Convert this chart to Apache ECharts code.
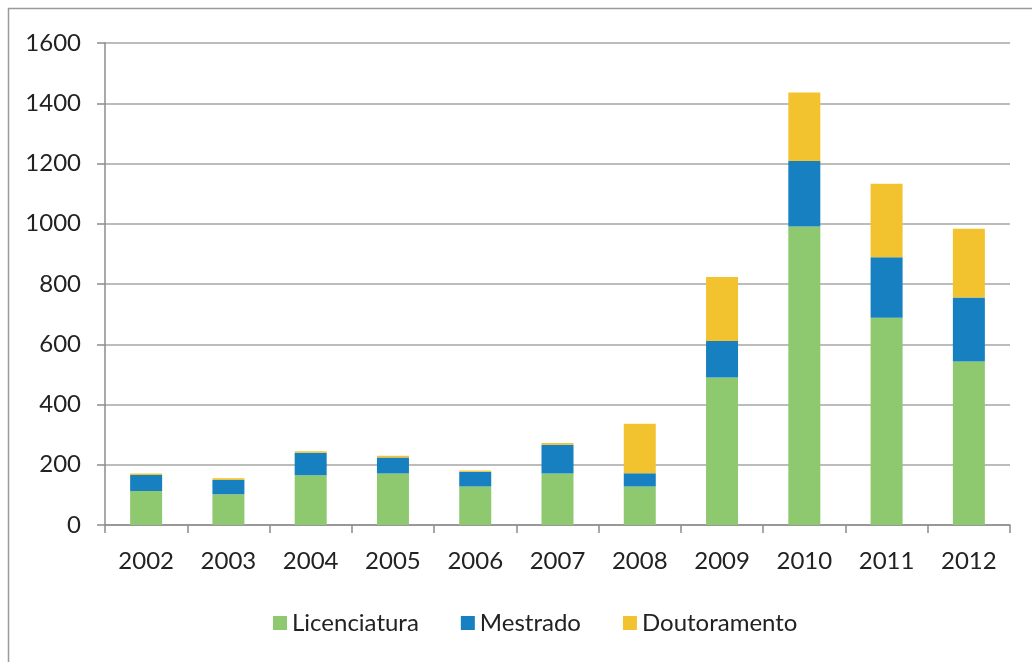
<!DOCTYPE html>
<html>
<head>
<meta charset="utf-8">
<script src="https://cdn.jsdelivr.net/npm/echarts@6/dist/echarts.min.js"></script>
<style>
  html, body { margin: 0; padding: 0; background: #fff; }
  #chart { width: 1032px; height: 662px; }
</style>
</head>
<body>
<div id="chart"></div>
<script>
// Graduates per year by degree level
const years = ['2002', '2003', '2004', '2005', '2006', '2007', '2008', '2009', '2010', '2011', '2012'];
const licenciatura = [113, 102, 165, 171, 128, 171, 128, 490, 991, 688, 543];
const mestrado     = [53, 47, 75, 53, 49, 95, 44, 121, 217, 201, 212];
const doutoramento = [5, 6, 5, 6, 4, 6, 164, 212, 228, 244, 228];
const yTicks = { min: 0, max: 1600, interval: 200 };

const FONT = 'Lato, "Open Sans", sans-serif';
const chart = echarts.init(document.getElementById('chart'), null, { renderer: 'canvas' });

function barSeries(name, data, color) {
  return {
    name: name,
    type: 'bar',
    stack: 'total',
    data: data,
    barWidth: 32,
    itemStyle: { color: color },
    emphasis: { disabled: true }
  };
}

chart.setOption({
  animation: false,
  backgroundColor: '#ffffff',
  textStyle: { fontFamily: FONT },
  graphic: [
    { type: 'line', shape: { x1: 8, y1: 8.5, x2: 1032, y2: 8.5 }, style: { stroke: '#9a9a9a', lineWidth: 1.5 } },
    { type: 'line', shape: { x1: 8.5, y1: 8, x2: 8.5, y2: 662 }, style: { stroke: '#9a9a9a', lineWidth: 1.5 } }
  ],
  grid: { left: 105, right: 22, top: 43, bottom: 137 },
  legend: {
    top: 606,
    left: 268,
    itemWidth: 14,
    itemHeight: 14,
    itemGap: 42,
    icon: 'rect',
    textStyle: { fontSize: 24, color: '#222', fontFamily: FONT },
    data: ['Licenciatura', 'Mestrado', 'Doutoramento']
  },
  xAxis: {
    type: 'category',
    data: years,
    axisLine: { lineStyle: { color: '#8c8c8c', width: 1.5 } },
    axisTick: { show: true, length: 8, alignWithLabel: false, lineStyle: { color: '#8c8c8c', width: 1.5 } },
    axisLabel: { fontSize: 24, color: '#222', margin: 24, fontFamily: FONT }
  },
  yAxis: {
    type: 'value',
    min: yTicks.min,
    max: yTicks.max,
    interval: yTicks.interval,
    axisLine: { show: true, lineStyle: { color: '#8c8c8c', width: 1.5 } },
    axisTick: { show: true, length: 8, lineStyle: { color: '#8c8c8c', width: 1.5 } },
    splitLine: { show: true, lineStyle: { color: '#a6a6a6', width: 1.5 } },
    axisLabel: { fontSize: 24, color: '#222', margin: 24, fontFamily: FONT, formatter: (v) => String(v) }
  },
  series: [
    barSeries('Licenciatura', licenciatura, '#8fc96f'),
    barSeries('Mestrado', mestrado, '#1780c0'),
    barSeries('Doutoramento', doutoramento, '#f3c32f')
  ]
});
</script>
</body>
</html>
